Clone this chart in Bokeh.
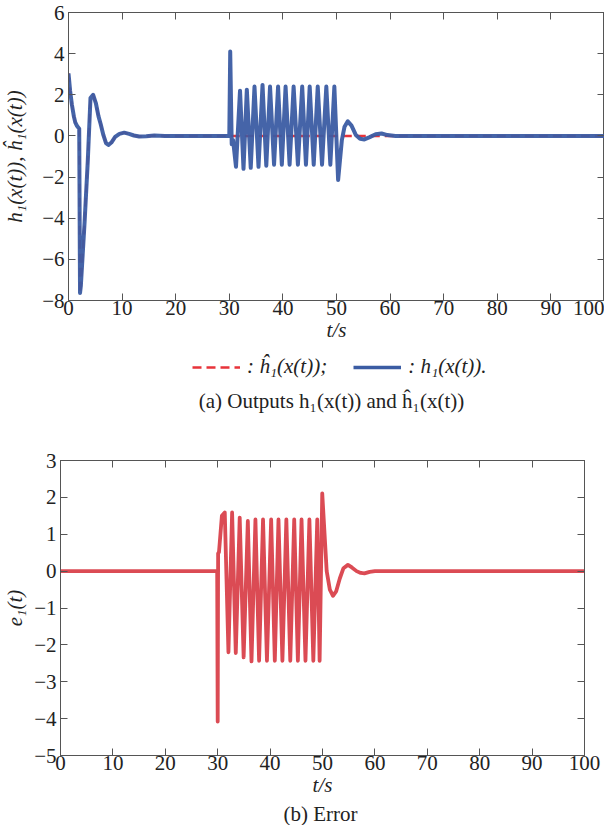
from bokeh.plotting import figure
from bokeh.models import LinearAxis, Range1d, Legend, LegendItem, FixedTicker
from bokeh.core.properties import value
from bokeh.embed import file_html
from bokeh.resources import INLINE

# ---------------- data ----------------
# top panel: h1(x(t)) - initial transient 0..30 s
t_a = [0, 0.3, 0.63, 1.0, 1.26, 1.6, 2.0, 2.15, 2.3, 3.0, 3.6, 4.1, 4.6, 5.1, 5.6,
       6.0, 6.5, 7.0, 7.45, 8.0, 8.7, 9.5, 10.4, 11.3, 12.2, 13.2, 14.5, 16.0, 18.0, 30.0]
h_a = [3.04, 2.2, 1.53, 0.95, 0.66, 0.48, 0.35, -7.64, -7.3, -4.2, -1.2, 1.84, 2.0, 1.6, 0.95,
       0.58, 0.05, -0.35, -0.44, -0.32, -0.05, 0.1, 0.16, 0.1, 0.02, -0.03, -0.02, 0.02, 0.0, 0.0]
# top panel: h1(x(t)) - oscillation and settling 30..100 s
t_b = [30.17, 30.45, 30.7, 31.25, 32.0, 32.65, 33.27, 34.0, 34.7, 35.45, 36.2, 36.9, 37.6,
       38.35, 39.1, 39.8, 40.5, 41.25, 42.0, 42.8, 43.6, 44.3, 45.0, 45.75, 46.5, 47.3, 48.1,
       48.85, 49.6, 50.3, 51.0, 51.5, 52.1, 52.8, 53.6, 54.4, 55.2, 56.2, 57.3, 58.4, 59.5,
       61.0, 100.0]
h_b = [4.1, -0.4, -0.2, -1.5, 2.2, -1.6, 2.25, -1.55, 2.4, -1.5, 2.48, -1.45, 2.4,
       -1.4, 2.4, -1.4, 2.4, -1.4, 2.4, -1.4, 2.4, -1.4, 2.4, -1.4, 2.4, -1.4, 2.4,
       -1.4, 2.4, -2.14, -0.2, 0.45, 0.71, 0.5, 0.05, -0.14, -0.17, -0.06, 0.08, 0.12, 0.04,
       0.0, 0.0]
# top panel: estimate h1_hat(x(t)) (follows h1 until 30 s, then stays at 0)
t_hat = t_a + [100.0]
h_hat = h_a + [0.0]

# bottom panel: error e1(t)
t_e = [0, 29.9, 30.0, 30.08, 30.25, 30.8, 31.35, 32.05, 32.75, 33.45, 34.2, 34.95, 35.75,
       36.45, 37.2, 37.9, 38.65, 39.4, 40.2, 40.9, 41.6, 42.35, 43.1, 43.85, 44.6, 45.3,
       46.0, 46.75, 47.5, 48.25, 49.0, 49.45, 49.95, 50.8, 51.4, 52.0, 52.6, 53.3, 54.0,
       54.85, 55.6, 56.5, 57.3, 58.0, 59.0, 60.0, 100.0]
e_1 = [0, 0, -4.08, 0.48, 0.52, 1.5, 1.59, -2.2, 1.59, -2.22, 1.45, -2.34, 1.36,
       -2.45, 1.4, -2.43, 1.4, -2.43, 1.4, -2.43, 1.4, -2.43, 1.4, -2.43, 1.4, -2.43,
       1.4, -2.43, 1.4, -2.43, 1.4, -2.43, 2.11, 0.0, -0.5, -0.67, -0.55, -0.2, 0.08,
       0.17, 0.1, 0.0, -0.05, -0.06, -0.02, 0.0, 0.0]

x_ticks = [0, 10, 20, 30, 40, 50, 60, 70, 80, 90, 100]
y_ticks_top = [-8, -6, -4, -2, 0, 2, 4, 6]
y_ticks_bot = [-5, -4, -3, -2, -1, 0, 1, 2, 3]

y_label_top = "h\u2081(x(t)), \u0125\u2081(x(t))"
y_label_bot = "e\u2081(t)"
x_label = "t/s"
legend_labels = [": \u0125\u2081(x(t));", ": h\u2081(x(t))."]
caption_top = "(a) Outputs h\u2081(x(t)) and \u0125\u2081(x(t))"
caption_bot = "(b) Error"

# ---------------- style ----------------
FONT = "Liberation Serif"
FS = "21px"
AX = "#555555"
TXT = "#222222"
BLUE = "#3B5CA3"
RED_DASH = "#E8333A"
RED = "#D9414B"
W = 604


def minus(ticks):
    return {v: ("\u2212" + str(abs(v))) for v in ticks if v < 0}


def frame_axes(p, yticks, ylabel, ylabel_standoff):
    xa = p.xaxis[0]
    ya = p.yaxis[0]
    xa.ticker = FixedTicker(ticks=x_ticks)
    ya.ticker = FixedTicker(ticks=yticks)
    ya.major_label_overrides = minus(yticks)
    for ax in (xa, ya):
        ax.major_tick_in = 7
        ax.major_tick_out = 0
        ax.minor_tick_line_color = None
        ax.axis_line_color = AX
        ax.major_tick_line_color = AX
        ax.major_label_text_font = FONT
        ax.major_label_text_font_size = FS
        ax.major_label_text_color = TXT
        ax.axis_label_text_font = FONT
        ax.axis_label_text_font_size = FS
        ax.axis_label_text_font_style = "italic"
        ax.axis_label_text_color = TXT
        ax.major_label_standoff = 0
        ax.axis_label_standoff = 0
    ya.major_label_standoff = 4
    ya.axis_label = ylabel
    ya.axis_label_standoff = ylabel_standoff
    xa.axis_label = x_label
    for side, ticks in (("above", x_ticks), ("right", yticks)):
        a = LinearAxis(ticker=FixedTicker(ticks=ticks), major_tick_in=7, major_tick_out=0,
                       minor_tick_line_color=None, axis_line_color=AX,
                       major_tick_line_color=AX, major_label_text_color=None,
                       major_label_text_font_size="1px", major_label_standoff=0)
        p.add_layout(a, side)
    p.outline_line_color = AX
    p.xgrid.grid_line_color = None
    p.ygrid.grid_line_color = None


def strip(height):
    s = figure(width=W, height=height, output_backend="svg", toolbar_location=None,
               x_range=Range1d(0, W), y_range=Range1d(0, height),
               min_border=0, min_border_left=0, min_border_right=0,
               min_border_top=0, min_border_bottom=0,
               x_axis_type=None, y_axis_type=None)
    s.outline_line_color = None
    s.xgrid.grid_line_color = None
    s.ygrid.grid_line_color = None
    return s


# ---------------- top panel ----------------
p1 = figure(width=W, height=350, output_backend="svg", toolbar_location=None,
            x_range=Range1d(0, 100), y_range=Range1d(-8, 6),
            min_border_left=62, min_border_right=0, min_border_top=12, min_border_bottom=50)
frame_axes(p1, y_ticks_top, y_label_top, 12)
p1.line(t_hat, h_hat, line_color=RED_DASH, line_width=2.5, line_dash="9 5")
p1.line(t_a + t_b, h_a + h_b, line_color=BLUE, line_width=4, line_alpha=0.95,
        line_join="round")

# ---------------- legend + caption strip ----------------
pl = strip(67)
# the two series again (hidden here) so that the legend can show their line styles
s_hat = pl.line(t_hat, h_hat, line_color=RED_DASH, line_width=2.5, line_dash="9 5",
                visible=False)
s_h = pl.line(t_a + t_b, h_a + h_b, line_color=BLUE, line_width=3.5, visible=False)
legend = Legend(items=[LegendItem(label=legend_labels[0], renderers=[s_hat]),
                       LegendItem(label=legend_labels[1], renderers=[s_h])],
                orientation="horizontal", location=(192, 38),
                border_line_color=None, background_fill_alpha=0,
                label_text_font=FONT, label_text_font_size=FS, label_text_font_style="italic",
                label_text_color=TXT, glyph_width=48, glyph_height=20, spacing=26,
                label_standoff=7, padding=0, margin=0)
pl.add_layout(legend, "center")
pl.text(x=[331], y=[17], text=[caption_top], text_font=value(FONT), text_font_size=FS,
        text_color=TXT, text_align="center", text_baseline="middle")

# ---------------- bottom panel ----------------
p2 = figure(width=W, height=385, output_backend="svg", toolbar_location=None,
            x_range=Range1d(0, 100), y_range=Range1d(-5, 3),
            min_border_left=50, min_border_right=20, min_border_top=43, min_border_bottom=47)
frame_axes(p2, y_ticks_bot, y_label_bot, 4)
p2.line(t_e, e_1, line_color=RED, line_width=3.8, line_alpha=0.95, line_join="round")

pc = strip(23)
pc.text(x=[320], y=[12], text=[caption_bot], text_font=value(FONT), text_font_size=FS,
        text_color=TXT, text_align="center", text_baseline="middle")

open("out.html", "w").write(file_html([p1, pl, p2, pc], INLINE))
